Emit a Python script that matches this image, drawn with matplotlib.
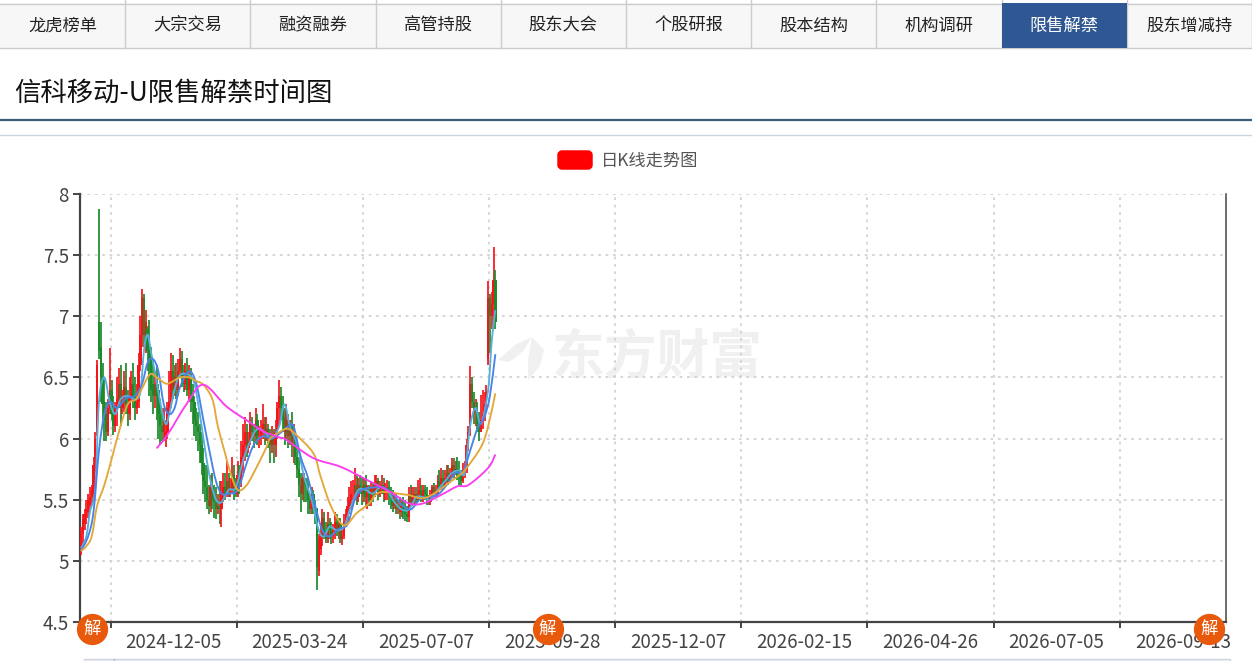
import matplotlib
matplotlib.use("Agg")
import matplotlib.pyplot as plt
from matplotlib.patches import Rectangle, FancyBboxPatch, Polygon, PathPatch
from matplotlib.path import Path
from matplotlib.transforms import ScaledTranslation

plt.rcParams['font.family'] = ['Noto Sans CJK SC', 'DejaVu Sans']

tabs = ['龙虎榜单', '大宗交易', '融资融券', '高管持股', '股东大会', '个股研报', '股本结构', '机构调研', '限售解禁', '股东增减持']
active_tab = '限售解禁'
page_title = '信科移动-U限售解禁时间图'
legend_label = '日K线走势图'
watermark = '东方财富'

n_categories = 636
tick_positions = [17, 87, 157, 227, 297, 367, 437, 507, 577]
label_positions = [52, 122, 192, 262, 332, 402, 472, 542, 612]
date_labels = ['2024-12-05', '2025-03-24', '2025-07-07', '2025-09-28', '2025-12-07',
               '2026-02-15', '2026-04-26', '2026-07-05', '2026-09-13']
unlock_positions = [6, 259, 626]
y_ticks = [4.5, 5, 5.5, 6, 6.5, 7, 7.5, 8]
y_labels = ['4.5', '5', '5.5', '6', '6.5', '7', '7.5', '8']

opens = [
    5.10,5.22,5.30,5.36,5.40,5.46,5.52,5.55,5.75,6.05,
    6.95,6.75,6.50,6.30,6.20,6.05,6.25,6.40,6.20,6.10,
    6.25,6.30,6.45,6.25,6.30,6.42,6.28,6.20,6.35,6.45,
    6.35,6.25,6.30,6.60,6.85,7.15,6.80,6.90,6.75,6.70,
    6.45,6.35,6.45,6.40,6.20,6.10,6.05,6.00,6.05,6.25,
    6.30,6.55,6.40,6.50,6.40,6.55,6.65,6.50,6.45,6.55,
    6.40,6.50,6.35,6.30,6.15,6.10,6.05,5.95,5.80,5.65,
    5.60,5.50,5.45,5.60,5.50,5.48,5.42,5.45,5.42,5.55,
    5.60,5.55,5.65,5.58,5.58,5.70,5.58,5.55,5.70,5.65,
    5.85,5.95,6.05,5.92,5.98,6.12,6.05,6.02,6.15,6.02,
    6.02,6.08,6.12,6.05,6.08,6.00,5.95,6.02,5.95,6.05,
    6.25,6.35,6.25,6.18,6.05,6.15,6.02,6.10,5.95,5.95,
    5.85,5.75,5.62,5.55,5.68,5.62,5.60,5.50,5.42,5.55,
    5.45,5.42,4.92,5.10,5.20,5.35,5.22,5.18,5.30,5.25,
    5.20,5.22,5.32,5.25,5.30,5.18,5.20,5.32,5.38,5.45,
    5.50,5.55,5.55,5.62,5.52,5.62,5.60,5.55,5.62,5.52,
    5.55,5.50,5.60,5.55,5.62,5.65,5.55,5.60,5.62,5.55,
    5.58,5.60,5.55,5.52,5.45,5.50,5.42,5.45,5.40,5.45,
    5.40,5.38,5.36,5.55,5.48,5.52,5.55,5.50,5.55,5.58,
    5.52,5.58,5.55,5.50,5.48,5.52,5.60,5.55,5.58,5.65,
    5.60,5.68,5.62,5.68,5.72,5.65,5.70,5.78,5.72,5.75,
    5.72,5.70,5.65,5.72,5.75,5.95,6.05,6.45,6.30,6.20,
    6.20,6.12,6.05,6.15,6.20,6.28,6.65,7.15,7.00,7.10,7.30,
]
closes = [
    5.22,5.34,5.38,5.42,5.50,5.52,5.58,5.78,6.00,6.60,
    6.72,6.50,6.28,6.15,6.05,6.25,6.40,6.20,6.10,6.25,
    6.32,6.45,6.25,6.30,6.42,6.28,6.20,6.35,6.45,6.35,
    6.25,6.30,6.60,6.85,7.15,6.85,6.95,6.72,6.65,6.40,
    6.35,6.45,6.35,6.20,6.10,6.05,6.15,6.05,6.25,6.30,
    6.55,6.40,6.50,6.40,6.55,6.65,6.50,6.45,6.55,6.40,
    6.50,6.35,6.30,6.15,6.10,6.05,5.95,5.80,5.65,5.60,
    5.50,5.45,5.60,5.50,5.48,5.42,5.45,5.42,5.55,5.60,
    5.55,5.65,5.58,5.58,5.70,5.58,5.55,5.70,5.65,5.85,
    5.95,6.05,5.92,5.98,6.12,6.05,6.02,6.15,6.02,6.02,
    6.08,6.12,6.05,6.08,6.00,5.95,6.02,5.95,6.05,6.25,
    6.35,6.25,6.18,6.05,6.15,6.02,6.10,5.95,5.95,5.85,
    5.75,5.62,5.55,5.68,5.62,5.60,5.50,5.42,5.55,5.45,
    5.42,4.95,5.18,5.20,5.35,5.22,5.18,5.30,5.25,5.20,
    5.22,5.32,5.25,5.30,5.18,5.20,5.32,5.38,5.45,5.50,
    5.55,5.55,5.62,5.52,5.62,5.60,5.55,5.62,5.52,5.55,
    5.50,5.60,5.55,5.62,5.65,5.55,5.60,5.62,5.55,5.58,
    5.60,5.55,5.52,5.45,5.50,5.42,5.45,5.40,5.45,5.40,
    5.38,5.36,5.55,5.48,5.52,5.55,5.50,5.55,5.58,5.52,
    5.58,5.55,5.50,5.48,5.52,5.60,5.55,5.58,5.65,5.60,
    5.68,5.62,5.68,5.72,5.65,5.70,5.78,5.72,5.75,5.72,
    5.70,5.65,5.72,5.75,5.95,6.05,6.45,6.30,6.20,6.20,
    6.12,6.05,6.15,6.20,6.28,6.38,7.15,7.00,7.10,7.30,6.95,
]
highs = [
    5.28,5.38,5.42,5.50,5.55,5.60,5.62,5.85,6.05,6.64,
    7.88,6.95,6.62,6.50,6.30,6.32,6.74,6.48,6.35,6.30,
    6.50,6.58,6.60,6.40,6.55,6.62,6.40,6.50,6.55,6.62,
    6.50,6.45,6.70,7.00,7.22,7.18,7.05,6.92,6.97,6.75,
    6.65,6.55,6.60,6.45,6.32,6.25,6.25,6.15,6.30,6.55,
    6.70,6.68,6.60,6.62,6.65,6.74,6.72,6.60,6.62,6.66,
    6.60,6.58,6.45,6.35,6.25,6.22,6.12,6.05,5.92,5.78,
    5.78,5.62,5.70,5.72,5.62,5.60,5.55,5.65,5.65,5.72,
    5.72,5.82,5.72,5.68,5.85,5.78,5.68,5.82,5.78,5.98,
    6.12,6.18,6.12,6.05,6.22,6.18,6.12,6.25,6.20,6.10,
    6.15,6.28,6.18,6.18,6.12,6.08,6.10,6.08,6.15,6.30,
    6.48,6.42,6.35,6.25,6.28,6.20,6.15,6.22,6.12,6.02,
    5.95,5.85,5.72,5.72,5.72,5.68,5.68,5.55,5.60,5.58,
    5.50,5.43,5.22,5.30,5.42,5.40,5.32,5.40,5.35,5.32,
    5.30,5.40,5.38,5.35,5.35,5.25,5.38,5.42,5.52,5.60,
    5.65,5.66,5.76,5.70,5.68,5.70,5.68,5.68,5.70,5.62,
    5.62,5.65,5.64,5.70,5.70,5.68,5.65,5.70,5.68,5.64,
    5.66,5.65,5.60,5.58,5.56,5.55,5.50,5.52,5.50,5.52,
    5.50,5.45,5.60,5.62,5.60,5.60,5.60,5.66,5.68,5.62,
    5.62,5.62,5.60,5.54,5.58,5.62,5.64,5.62,5.70,5.74,
    5.76,5.74,5.74,5.78,5.78,5.76,5.84,5.84,5.82,5.85,
    5.82,5.74,5.80,5.82,6.00,6.10,6.59,6.50,6.38,6.32,
    6.30,6.22,6.36,6.40,6.38,6.44,7.29,7.18,7.20,7.57,7.38,
]
lows = [
    5.05,5.14,5.25,5.30,5.35,5.40,5.46,5.50,5.72,6.02,
    6.65,6.30,6.10,5.98,5.98,6.02,6.20,6.15,6.03,6.05,
    6.10,6.25,6.10,6.20,6.22,6.20,6.10,6.15,6.30,6.25,
    6.15,6.20,6.25,6.55,6.75,6.75,6.70,6.55,6.35,6.30,
    6.20,6.25,6.15,6.00,5.95,5.98,5.98,5.93,6.00,6.20,
    6.25,6.32,6.35,6.32,6.35,6.50,6.42,6.38,6.40,6.35,
    6.30,6.22,6.12,6.02,5.98,5.90,5.80,5.70,5.55,5.48,
    5.42,5.38,5.40,5.42,5.35,5.34,5.38,5.30,5.28,5.48,
    5.50,5.52,5.52,5.52,5.55,5.50,5.52,5.52,5.55,5.60,
    5.72,5.82,5.85,5.88,5.95,5.98,5.92,5.98,5.95,5.92,
    5.95,6.00,5.95,5.98,5.92,5.80,5.88,5.80,5.85,6.00,
    6.10,6.15,6.05,5.95,6.00,5.92,5.95,5.85,5.80,5.78,
    5.68,5.52,5.40,5.50,5.48,5.48,5.38,5.38,5.38,5.38,
    5.30,4.76,4.88,5.05,5.12,5.18,5.15,5.15,5.18,5.14,
    5.15,5.18,5.20,5.18,5.15,5.13,5.18,5.28,5.32,5.38,
    5.42,5.45,5.50,5.46,5.48,5.55,5.46,5.48,5.45,5.42,
    5.45,5.45,5.48,5.52,5.58,5.50,5.52,5.55,5.48,5.50,
    5.50,5.46,5.42,5.40,5.42,5.38,5.38,5.34,5.36,5.34,
    5.33,5.32,5.32,5.45,5.45,5.46,5.46,5.48,5.50,5.48,
    5.48,5.50,5.46,5.46,5.46,5.50,5.52,5.52,5.55,5.58,
    5.58,5.58,5.60,5.64,5.62,5.64,5.68,5.68,5.70,5.66,
    5.62,5.60,5.64,5.68,5.72,5.90,6.02,6.25,6.12,6.10,
    6.05,5.98,6.05,6.08,6.14,6.22,6.60,6.70,6.90,6.95,6.90,
]

ma5_x = [0,3,5,8,10,13,16,19,22,26,30,33,35,37,39,41,44,47,49,52,55,60,63,66,69,72,75,78,82,86,90,94,98,102,106,110,113,116,120,124,128,132,135,138,142,146,150,154,158,162,166,170,174,178,182,186,190,194,198,202,206,210,213,216,219,222,226,228,230]
ma5_y = [5.1,5.2,5.4,5.6,6.3,6.5,6.3,6.2,6.32,6.35,6.32,6.38,6.72,6.85,6.7,6.55,6.3,6.12,6.2,6.4,6.52,6.52,6.45,6.2,5.9,5.65,5.5,5.48,5.58,5.6,5.82,5.98,6.08,6.05,6.0,6.1,6.28,6.1,5.95,5.68,5.5,5.25,5.2,5.28,5.25,5.28,5.45,5.58,5.58,5.55,5.6,5.58,5.48,5.42,5.42,5.52,5.52,5.5,5.58,5.65,5.72,5.74,5.72,6.1,6.25,6.12,6.4,6.8,7.05]
ma10_x = [0,4,7,10,13,16,20,25,30,34,37,40,43,46,49,52,55,60,64,68,72,75,78,82,87,92,96,101,106,111,115,118,122,126,130,134,138,143,148,152,156,162,168,173,178,183,188,193,198,203,208,212,216,220,224,227,230]
ma10_y = [5.08,5.2,5.4,5.9,6.2,6.3,6.25,6.33,6.35,6.45,6.62,6.65,6.55,6.28,6.2,6.25,6.42,6.55,6.45,6.15,5.85,5.65,5.55,5.55,5.58,5.8,5.95,6.02,6.0,6.05,6.1,6.1,5.85,5.68,5.45,5.25,5.2,5.26,5.3,5.5,5.58,5.6,5.6,5.55,5.46,5.42,5.5,5.52,5.54,5.62,5.72,5.72,5.9,6.08,6.18,6.35,6.69]
ma20_x = [0,3,6,9,13,17,21,26,31,38,42,47,50,55,60,64,68,73,76,80,83,87,92,98,103,105,110,114,118,129,133,139,146,153,160,166,181,192,209,213,222,226,230]
ma20_y = [5.08,5.12,5.2,5.45,5.62,5.83,6.05,6.28,6.33,6.52,6.5,6.45,6.46,6.5,6.5,6.47,6.44,6.32,6.1,5.88,5.72,5.58,5.62,5.78,5.93,6.0,6.05,6.08,6.05,5.88,5.69,5.44,5.29,5.39,5.47,5.56,5.54,5.52,5.69,5.74,5.93,6.1,6.37]
ma60_x = [42,48,59,68,81,94,101,110,114,129,144,159,172,182,190,200,209,215,226,230]
ma60_y = [5.92,6.03,6.29,6.44,6.26,6.13,6.06,6.01,5.99,5.84,5.77,5.66,5.56,5.47,5.47,5.54,5.61,5.62,5.76,5.87]

RED = '#f5141a'
GREEN = '#1c8a2a'
MA5 = '#55b0dc'
MA10 = '#4a84e6'
MA20 = '#e3a838'
MA60 = '#fb3cf0'
INK = '#444444'

W, H = 1252, 661
fig = plt.figure(figsize=(W / 100, H / 100), dpi=100, facecolor='white')

# page furniture, in pixel coordinates
bg = fig.add_axes([0, 0, 1, 1], zorder=0)
bg.set_xlim(0, W)
bg.set_ylim(H, 0)
bg.axis('off')
tab_w = 125.2
bg.add_patch(Rectangle((0, 3), W, 45, fc='#f7f7f7', ec='none'))
bg.plot([0, W], [3.5, 3.5], color='#cccccc', lw=1)
bg.plot([0, W], [47.7, 47.7], color='#cccccc', lw=1)
for k, t in enumerate(tabs):
    x0 = k * tab_w
    if t == active_tab:
        bg.add_patch(Rectangle((x0, 3), tab_w, 45, fc='#2f5793', ec='none', zorder=2))
    bg.plot([x0 + tab_w] * 2, [0, 47.5], color='#cccccc', lw=1, zorder=1)
    bg.text(x0 + tab_w / 2, 25.5, t, ha='center', va='center', fontsize=12.4,
            color='white' if t == active_tab else '#222222', zorder=3)
bg.text(14, 93, page_title, ha='left', va='center', fontsize=19, color='#111111')
bg.plot([0, W], [119.7, 119.7], color='#3a5d7c', lw=1.6)
bg.plot([0, W], [135, 135], color='#c9d6de', lw=1)
bg.add_patch(FancyBboxPatch((559, 152), 32, 16, boxstyle='round,pad=0,rounding_size=3',
                            fc='#ff0000', ec='#ff0000', lw=2.5, joinstyle='round'))
bg.text(601, 160.5, legend_label, ha='left', va='center', fontsize=12.4, color='#555555')
bg.add_patch(Rectangle((84, 659), 1146, 6, fc='#eef0f6', ec='#cfd3e2', lw=1))
bg.plot([113.5, 113.5], [659, 661], color='#b8bccc', lw=1)
bg.text(657, 358, watermark, ha='center', va='center', fontsize=38, fontweight='bold', color='#f0f0f0')
bg.add_patch(Polygon([(498, 360), (515, 345), (532, 337), (524, 350), (515, 358), (508, 362)], fc='#f0f0f0', ec='none'))
bg.add_patch(Polygon([(532, 337), (544, 350), (540, 366), (528, 380), (528, 360)], fc='#f0f0f0', ec='none'))

# chart
ax = fig.add_axes([80 / W, (H - 622) / H, 1146 / W, 428 / H], zorder=1)
ax.patch.set_alpha(0)
ax.set_xlim(0, n_categories)
ax.set_ylim(4.5, 8)

ax.set_xticks(tick_positions)
ax.set_xticklabels([])
ax.set_xticks(label_positions, minor=True)
ax.set_xticklabels(date_labels, minor=True, fontsize=13.5, color=INK)
ax.tick_params(axis='x', which='major', length=4.5, width=1.4, color='#444444')
ax.tick_params(axis='x', which='minor', length=0, pad=7)
ax.set_yticks(y_ticks)
ax.set_yticklabels(y_labels, fontsize=13.5, color=INK)
ax.tick_params(axis='y', length=5, width=1.4, color='#444444', pad=3)
ax.grid(True, which='major', color='#d2d2d2', lw=1.3, linestyle=(0, (1.5, 2.6)))
ax.set_axisbelow(True)
for side, lw, col in [('left', 1.6, '#444444'), ('bottom', 1.6, '#444444'), ('right', 1.1, '#444444')]:
    ax.spines[side].set_linewidth(lw)
    ax.spines[side].set_color(col)
ax.spines['top'].set_visible(False)

for i, (o, c, h, l) in enumerate(zip(opens, closes, highs, lows)):
    col = RED if c >= o else GREEN
    ax.vlines(i + 0.5, l, h, color=col, lw=1.25, zorder=3)
    ax.bar(i + 0.5, abs(c - o), bottom=min(o, c), width=1.3, color=col, lw=0, zorder=3)


def smooth_line(xs, ys, col):
    pts = [(x + 0.5, y) for x, y in zip(xs, ys)]
    verts, codes = [pts[0]], [Path.MOVETO]
    for j in range(len(pts) - 1):
        p0 = pts[max(j - 1, 0)]
        p1 = pts[j]
        p2 = pts[j + 1]
        p3 = pts[min(j + 2, len(pts) - 1)]
        verts += [(p1[0] + (p2[0] - p0[0]) / 6, p1[1] + (p2[1] - p0[1]) / 6),
                  (p2[0] - (p3[0] - p1[0]) / 6, p2[1] - (p3[1] - p1[1]) / 6), p2]
        codes += [Path.CURVE4] * 3
    ax.add_patch(PathPatch(Path(verts, codes), fc='none', ec=col, lw=1.35, zorder=4))


for xs, ys, col in [(ma5_x, ma5_y, MA5), (ma10_x, ma10_y, MA10), (ma20_x, ma20_y, MA20), (ma60_x, ma60_y, MA60)]:
    smooth_line(xs, ys, col)

shift = ax.transData + ScaledTranslation(0, -6.5 / 100, fig.dpi_scale_trans)
for p in unlock_positions:
    ax.plot([p + 0.5], [4.5], marker='o', ms=21.5, mfc='#e9590c', mec='#e9590c', transform=shift,
            clip_on=False, zorder=10, linestyle='none')
    ax.text(p + 0.5, 4.5, '解', transform=shift, ha='center', va='center', fontsize=12.5,
            color='white', zorder=11, clip_on=False)

fig.savefig('out.png', dpi=100, facecolor='white')
